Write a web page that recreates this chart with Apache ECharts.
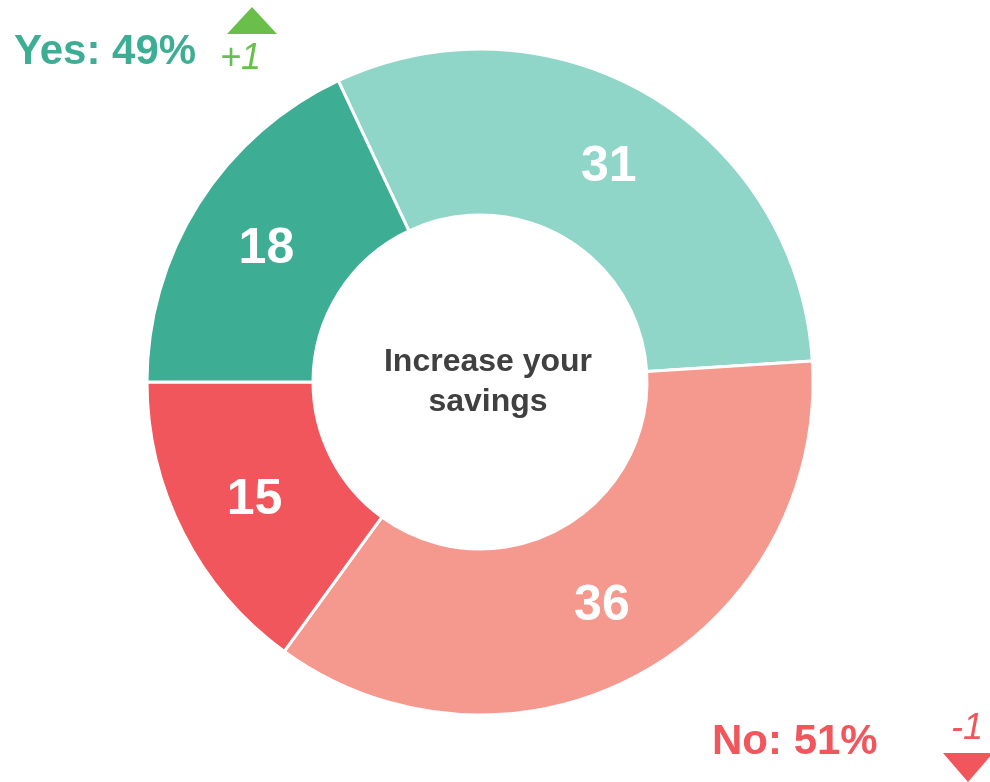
<!DOCTYPE html>
<html>
<head>
<meta charset="utf-8">
<script src="https://cdn.jsdelivr.net/npm/echarts@6/dist/echarts.min.js"></script>
<style>
html,body{margin:0;padding:0;background:#fff;}
#chart{width:990px;height:782px;}
</style>
</head>
<body>
<div id="chart"></div>
<script>
// Data
const categories = ['Yes - strongly', 'No - somewhat', 'No - strongly', 'Yes - somewhat'];
const values = [31, 36, 15, 18];
const colors = ['#8fd6c8', '#f5988d', '#f0565b', '#3dae94'];
const centerTitle = 'Increase your\nsavings';
const yesLabel = 'Yes: 49%';
const yesChange = '+1';
const noLabel = 'No: 51%';
const noChange = '-1';

const font = 'Liberation Sans, Arial, sans-serif';
const chart = echarts.init(document.getElementById('chart'));
chart.setOption({
  animation: false,
  backgroundColor: '#ffffff',
  series: [{
    type: 'pie',
    center: [480, 382],
    radius: [167, 333],
    startAngle: 115.2,
    clockwise: true,
    avoidLabelOverlap: false,
    itemStyle: { borderColor: '#ffffff', borderWidth: 3 },
    label: {
      show: true,
      position: 'inside',
      formatter: '{c}',
      color: '#ffffff',
      fontFamily: font,
      fontWeight: 'bold',
      fontSize: 50,
      offset: [0, 3]
    },
    labelLine: { show: false },
    emphasis: { disabled: true },
    data: categories.map((c, i) => ({ name: c, value: values[i], itemStyle: { color: colors[i] } }))
  }],
  graphic: [
    { type: 'text', x: 488, y: 382, style: {
        text: centerTitle, align: 'center', verticalAlign: 'middle',
        fontFamily: font, fontWeight: 'bold', fontSize: 32, lineHeight: 40, fill: '#404040' } },
    { type: 'text', x: 14, y: 52, style: { text: yesLabel, verticalAlign: 'middle',
        fontFamily: font, fontWeight: 'bold', fontSize: 42, fill: '#3dae94' } },
    { type: 'text', x: 220, y: 59, style: { text: yesChange, verticalAlign: 'middle',
        fontFamily: font, fontStyle: 'italic', fontSize: 36, fill: '#6abf4b' } },
    { type: 'polygon', shape: { points: [[227, 34], [277, 34], [252, 7]] }, style: { fill: '#6abf4b' } },
    { type: 'text', x: 712, y: 742, style: { text: noLabel, verticalAlign: 'middle',
        fontFamily: font, fontWeight: 'bold', fontSize: 42, fill: '#f0565b' } },
    { type: 'text', x: 951, y: 729, style: { text: noChange, verticalAlign: 'middle',
        fontFamily: font, fontStyle: 'italic', fontSize: 36, fill: '#f0565b' } },
    { type: 'polygon', shape: { points: [[943, 753], [993, 753], [968, 782]] }, style: { fill: '#f0565b' } }
  ]
});
</script>
</body>
</html>
